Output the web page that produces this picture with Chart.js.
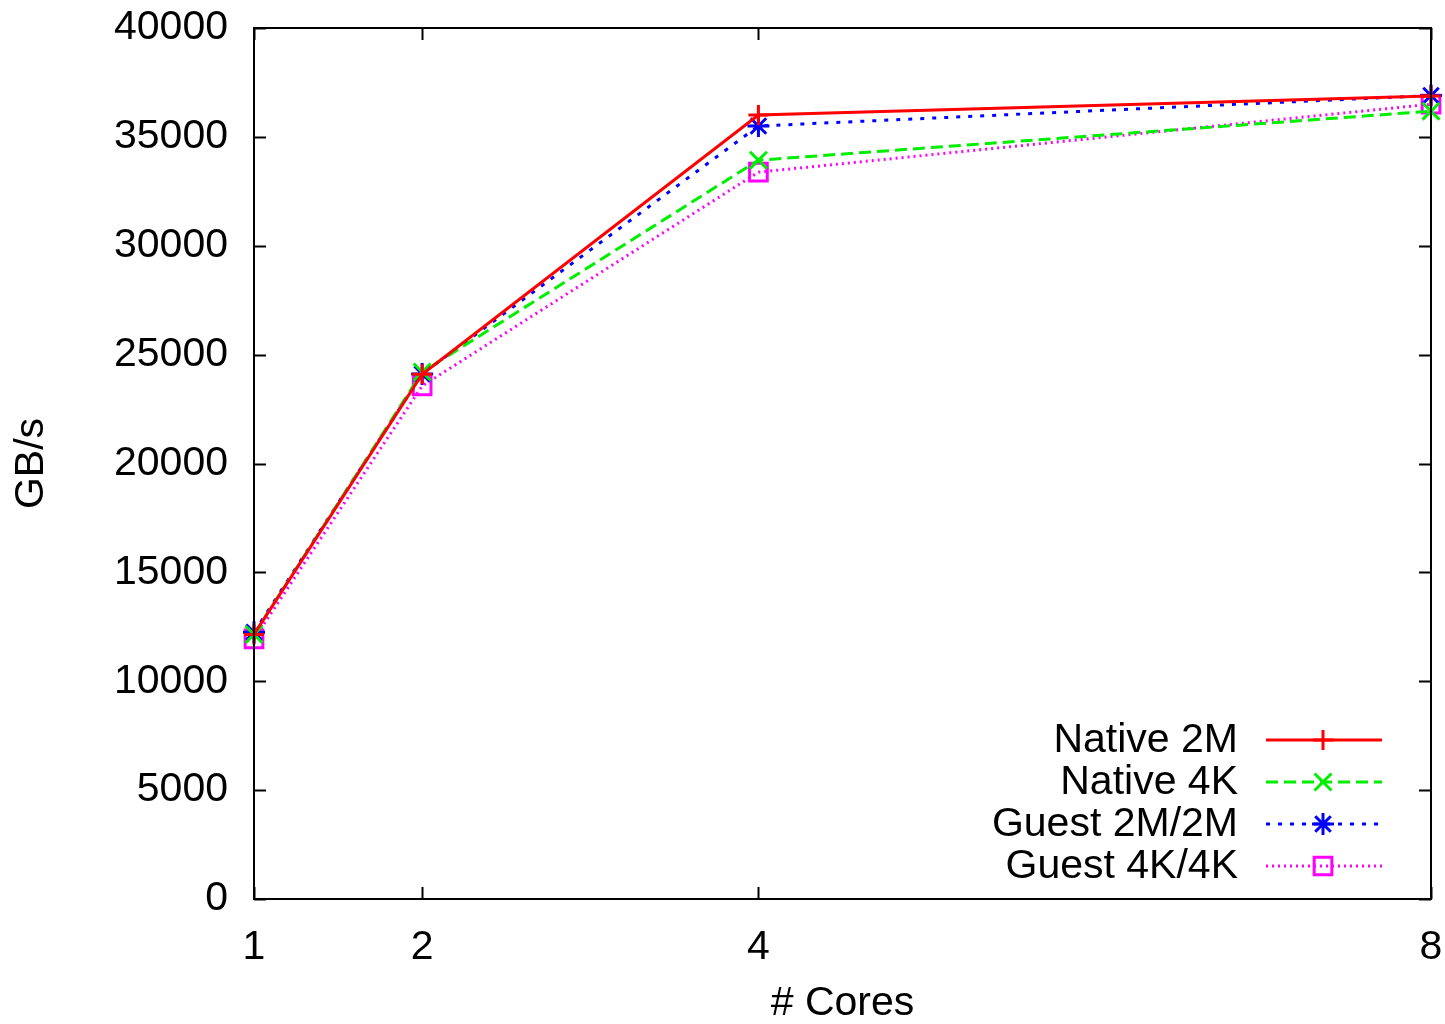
<!DOCTYPE html>
<html>
<head>
<meta charset="utf-8">
<script src="https://cdn.jsdelivr.net/npm/chart.js@4/dist/chart.umd.min.js"></script>
<style>
  body { margin: 0; background: #fff; }
  canvas { display: block; }
</style>
</head>
<body>
<canvas id="chart" width="1445" height="1024"></canvas>
<script>
const cores = [1, 2, 4, 8];
const native2M = [12150, 24100, 36000, 36880];
const native4K = [12150, 24200, 33930, 36180];
const guest2M = [12250, 24110, 35500, 36900];
const guest4K = [11950, 23560, 33380, 36500];
const seriesNames = ['Native 2M', 'Native 4K', 'Guest 2M/2M', 'Guest 4K/4K'];
const yTicks = [0, 5000, 10000, 15000, 20000, 25000, 30000, 35000, 40000];

const FONT = 'Liberation Sans, Arial, Helvetica, sans-serif';

function toPoints(vals) {
  return vals.map((v, i) => ({ x: cores[i], y: v }));
}

const styles = [
  { color: '#ff0000', dash: [], point: 'cross', radius: 10 },
  { color: '#00ee00', dash: [12, 6], point: 'crossRot', radius: 12 },
  { color: '#0000ff', dash: [4, 8], point: 'star', radius: 11 },
  { color: '#ff00ff', dash: [2, 4], point: 'rect', radius: 12.5 },
];

const allData = [native2M, native4K, guest2M, guest4K];

const datasets = allData.map((vals, i) => ({
  label: seriesNames[i],
  data: toPoints(vals),
  borderColor: styles[i].color,
  backgroundColor: 'rgba(0,0,0,0)',
  borderWidth: 3,
  borderDash: styles[i].dash,
  pointStyle: styles[i].point,
  pointRadius: styles[i].radius,
  pointBorderColor: styles[i].color,
  pointBackgroundColor: 'rgba(0,0,0,0)',
  pointBorderWidth: 3,
  tension: 0,
  clip: false,
}));

// frame + inward ticks on all four sides, like gnuplot
const framePlugin = {
  id: 'frame',
  afterDraw(chart) {
    const { ctx, chartArea: a, scales } = chart;
    ctx.save();
    ctx.strokeStyle = '#000';
    ctx.lineWidth = 2;
    ctx.setLineDash([]);
    const len = 12;
    ctx.beginPath();
    yTicks.forEach(v => {
      const y = Math.round(scales.y.getPixelForValue(v)) + 0.5;
      ctx.moveTo(a.left, y); ctx.lineTo(a.left + len, y);
      ctx.moveTo(a.right, y); ctx.lineTo(a.right - len, y);
    });
    cores.forEach(v => {
      const x = Math.round(scales.x.getPixelForValue(v)) + 0.5;
      ctx.moveTo(x, a.bottom); ctx.lineTo(x, a.bottom - len);
      ctx.moveTo(x, a.top); ctx.lineTo(x, a.top + len);
    });
    ctx.stroke();
    ctx.strokeRect(a.left, a.top, a.right - a.left, a.bottom - a.top);
    ctx.restore();
  }
};

// gnuplot-style key: text right aligned, sample line with marker
const keyPlugin = {
  id: 'key',
  afterDatasetsDraw(chart) {
    const ctx = chart.ctx;
    ctx.save();
    chart.data.datasets.forEach((ds, i) => {
      const y = 740 + i * 42;
      ctx.fillStyle = '#000';
      ctx.font = '41px ' + FONT;
      ctx.textAlign = 'right';
      ctx.textBaseline = 'middle';
      ctx.fillText(ds.label, 1238, y + 1);

      ctx.strokeStyle = ds.borderColor;
      ctx.lineWidth = ds.borderWidth;
      ctx.setLineDash(ds.borderDash);
      ctx.beginPath();
      ctx.moveTo(1266, y);
      ctx.lineTo(1382, y);
      ctx.stroke();

      ctx.setLineDash([]);
      ctx.lineWidth = ds.pointBorderWidth;
      ctx.strokeStyle = ds.pointBorderColor;
      ctx.fillStyle = 'rgba(0,0,0,0)';
      Chart.helpers.drawPoint(ctx, {
        pointStyle: ds.pointStyle,
        radius: ds.pointRadius,
        rotation: 0,
        borderWidth: ds.pointBorderWidth
      }, 1323, y);
    });
    ctx.restore();
  }
};

new Chart(document.getElementById('chart'), {
  type: 'line',
  data: { datasets },
  plugins: [framePlugin, keyPlugin],
  options: {
    responsive: false,
    animation: false,
    devicePixelRatio: 1,
    layout: { autoPadding: false, padding: { left: 0, top: 28, right: 14, bottom: 0 } },
    plugins: { legend: { display: false }, tooltip: { enabled: false } },
    scales: {
      x: {
        type: 'linear',
        min: 1,
        max: 8,
        afterBuildTicks: s => { s.ticks = cores.map(v => ({ value: v })); },
        afterFit: s => { s.height = 1024 - 899; s.paddingLeft = 0; s.paddingRight = 0; },
        grid: { display: false, drawTicks: false },
        border: { display: false },
        ticks: { color: '#000', font: { family: FONT, size: 41 }, padding: 24, maxRotation: 0, callback: v => String(v) },
        title: { display: true, text: '# Cores', color: '#000', font: { family: FONT, size: 41, lineHeight: 1 }, padding: 0 }
      },
      y: {
        min: 0,
        max: 40000,
        afterBuildTicks: s => { s.ticks = yTicks.map(v => ({ value: v })); },
        afterFit: s => { s.width = 254; s.paddingTop = 0; s.paddingBottom = 0; },
        grid: { display: false, drawTicks: false },
        border: { display: false },
        ticks: { color: '#000', font: { family: FONT, size: 41 }, padding: 26, callback: v => String(v) },
        title: { display: true, text: 'GB/s', color: '#000', font: { family: FONT, size: 41, lineHeight: 1 }, padding: { top: 11, bottom: 0 } }
      }
    }
  }
});
</script>
</body>
</html>
